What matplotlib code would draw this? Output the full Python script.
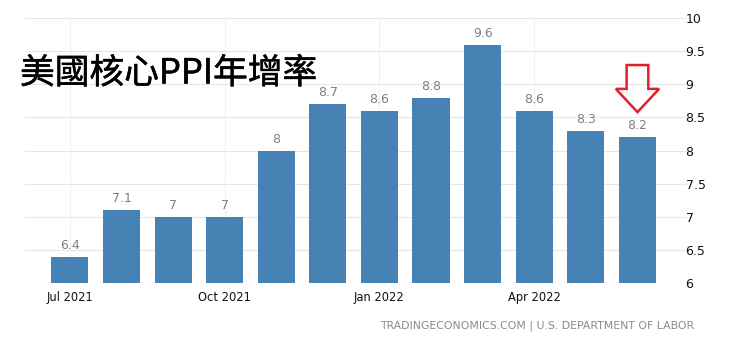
import matplotlib
matplotlib.use("Agg")
import matplotlib.pyplot as plt
from matplotlib.patches import Polygon
import matplotlib.patheffects as pe
import numpy as np

categories = ["Jul 2021", "Aug 2021", "Sep 2021", "Oct 2021", "Nov 2021", "Dec 2021",
              "Jan 2022", "Feb 2022", "Mar 2022", "Apr 2022", "May 2022", "Jun 2022"]
values = [6.4, 7.1, 7.0, 7.0, 8.0, 8.7, 8.6, 8.8, 9.6, 8.6, 8.3, 8.2]
value_labels = ["6.4", "7.1", "7", "7", "8", "8.7", "8.6", "8.8", "9.6", "8.6", "8.3", "8.2"]
xtick_idx = [0, 3, 6, 9]
yticks = [6, 6.5, 7, 7.5, 8, 8.5, 9, 9.5, 10]
ytick_labels = ["6", "6.5", "7", "7.5", "8", "8.5", "9", "9.5", "10"]
title = "美國核心PPI年增率"
footer = "TRADINGECONOMICS.COM | U.S. DEPARTMENT OF LABOR"

base = ["DejaVu Sans"]

fig = plt.figure(figsize=(7.4, 3.45), dpi=100)
ax = fig.add_axes([25/740, 1-283/345, (687-25)/740, (283-18)/345])
x = np.arange(len(values))
ax.bar(x, values, width=0.72, color="#4682b4", bottom=0, zorder=3)
ax.set_ylim(6, 10)
ax.set_xlim(-0.87, 11.96)
for s in ax.spines.values():
    s.set_visible(False)
ax.yaxis.tick_right()
ax.set_yticks(yticks)
ax.set_yticklabels(ytick_labels, fontsize=9, family=base, color="#111111")
ax.set_xticks(xtick_idx)
ax.set_xticklabels([categories[i] for i in xtick_idx], fontsize=8.3, family=base, color="#111111")
ax.tick_params(axis="both", length=0)
ax.tick_params(axis="x", pad=6)
ax.tick_params(axis="y", pad=-1)
ax.grid(axis="y", color="#e6e6e6", linewidth=0.8, zorder=0)
ax.grid(axis="x", color="#f0f0f0", linewidth=0.8, zorder=0)

for xi, v, lab in zip(x, values, value_labels):
    ax.annotate(lab, (xi, v), xytext=(0, 3.5), textcoords="offset points",
                ha="center", va="bottom", fontsize=9, color="#7f7f7f", family=base)

# red outline arrow above last bar
i = len(values) - 1
arrow = Polygon([(i - 0.21, 9.29), (i + 0.21, 9.29), (i + 0.21, 8.93), (i + 0.42, 8.93),
                 (i, 8.58), (i - 0.42, 8.93), (i - 0.21, 8.93)],
                closed=True, fill=False, edgecolor="#e3202a", linewidth=1.8, zorder=5,
                clip_on=False)
ax.add_patch(arrow)

fig.text(20/740, 1-74/345, title, fontsize=25, family=["Noto Sans CJK TC", "DejaVu Sans"],
         color="black", ha="left", va="center",
         path_effects=[pe.withStroke(linewidth=0.35, foreground="black")])
fig.text(694/740, 1-326/345, footer, fontsize=7.8, family=base, color="#8a8a8a",
         ha="right", va="center")

fig.savefig("out.png", dpi=100)
